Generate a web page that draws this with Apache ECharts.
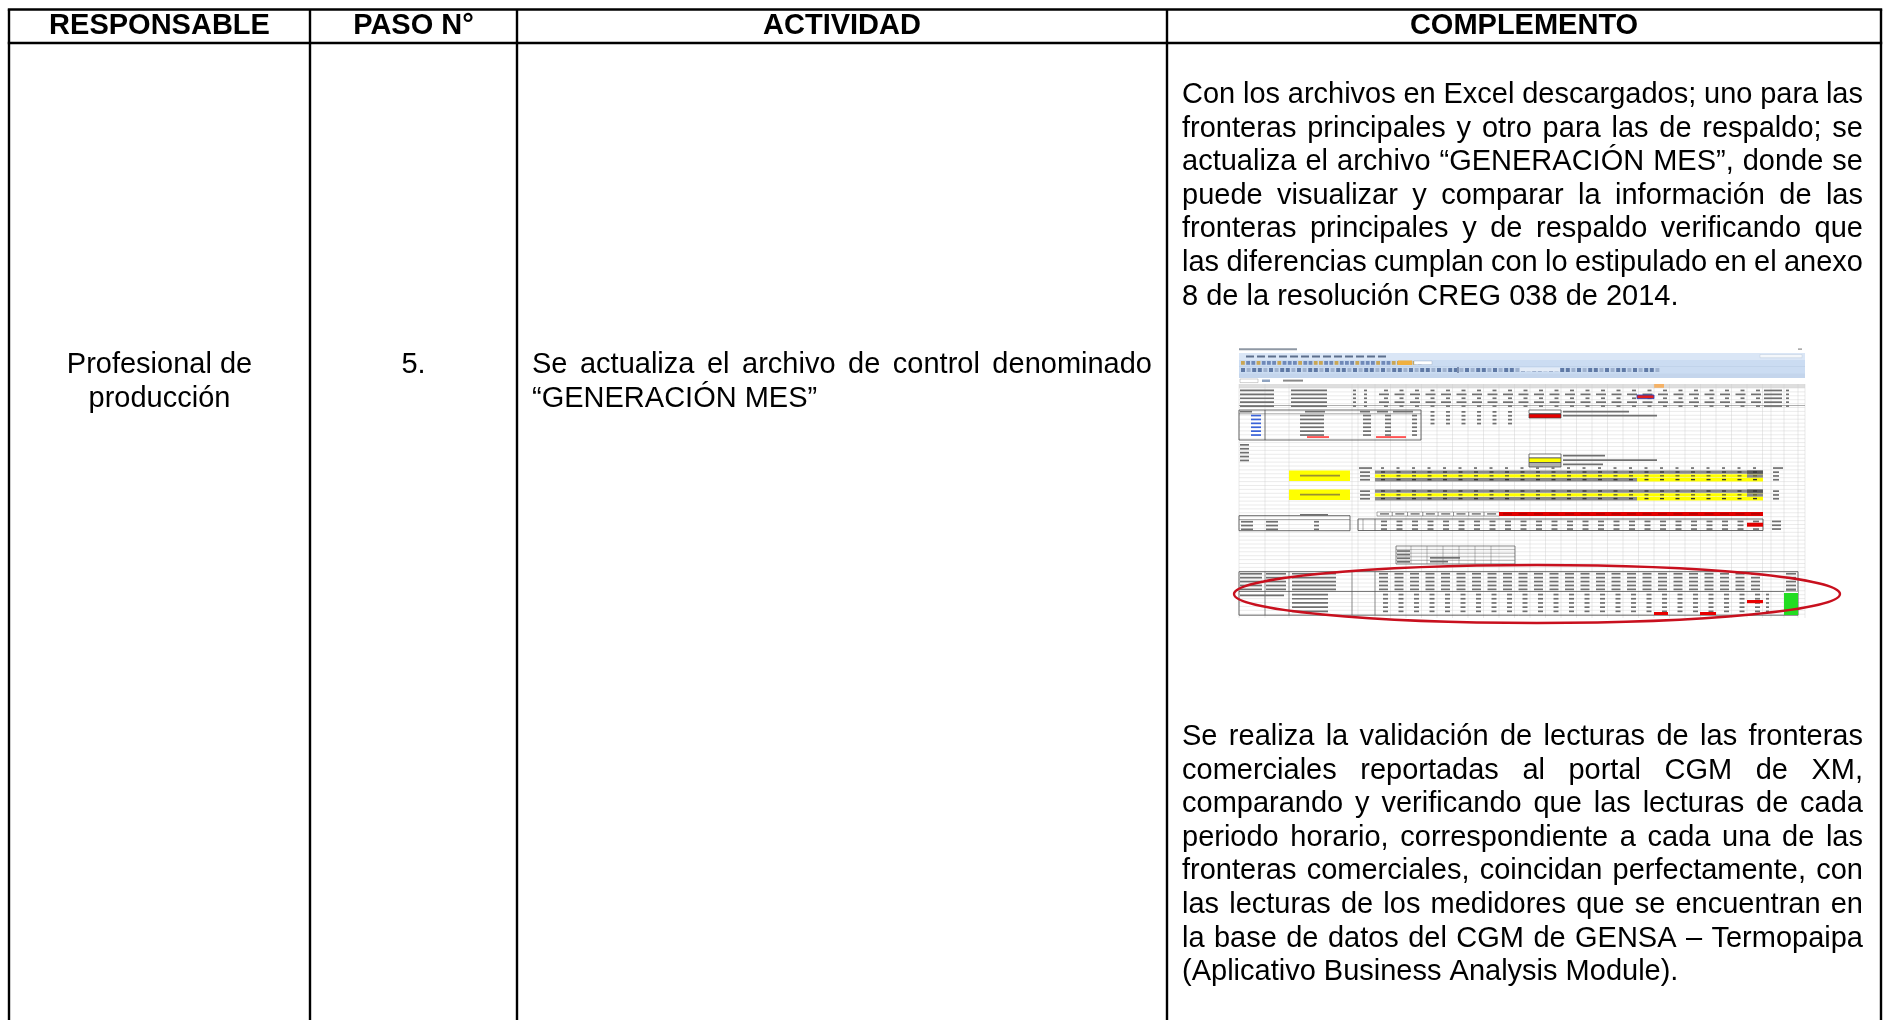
<!DOCTYPE html>
<html><head><meta charset="utf-8">
<script src="https://cdn.jsdelivr.net/npm/echarts@6/dist/echarts.min.js"></script>
<style>html,body{margin:0;padding:0;background:#fff}#c{width:1883px;height:1020px}</style>
</head><body><div id="c"></div>
<script>
// ---- table content ----
const headers = ['RESPONSABLE', 'PASO N°', 'ACTIVIDAD', 'COMPLEMENTO'];
const responsableLines = ['Profesional de', 'producción'];
const pasoLines = ['5.'];
const actividadLines = ['Se actualiza el archivo de control denominado', '“GENERACIÓN MES”'];
const complementoP1 = [
  'Con los archivos en Excel descargados; uno para las',
  'fronteras principales y otro para las de respaldo; se',
  'actualiza el archivo “GENERACIÓN MES”, donde se',
  'puede visualizar y comparar la información de las',
  'fronteras principales y de respaldo verificando que',
  'las diferencias cumplan con lo estipulado en el anexo',
  '8 de la resolución CREG 038 de 2014.'
];
const complementoP2 = [
  'Se realiza la validación de lecturas de las fronteras',
  'comerciales reportadas al portal CGM de XM,',
  'comparando y verificando que las lecturas de cada',
  'periodo horario, correspondiente a cada una de las',
  'fronteras comerciales, coincidan perfectamente, con',
  'las lecturas de los medidores que se encuentran en',
  'la base de datos del CGM de GENSA – Termopaipa',
  '(Aplicativo Business Analysis Module).'
];

// ---- layout ----
const FONT = '"Liberation Sans", Arial, sans-serif';
const FS = 29, LH = 33.6, SCALE_Y = 1.04;
const colX = [9, 310, 517, 1167, 1881];
const topY = 9.5, headBottom = 43, bottomY = 1020;

const ctx = document.createElement('canvas').getContext('2d');
ctx.font = FS + 'px ' + FONT;

const els = [];
function textEl(t, x, y, align, bold) {
  return {type: 'text', silent: true, z: 10,
    scaleY: bold ? 1 : SCALE_Y, originX: x, originY: y + 10,
    style: {
    text: t, x: x, y: y, font: (bold ? 'bold ' : '') + FS + 'px ' + FONT, fill: '#000',
    align: align, textAlign: align, verticalAlign: 'middle', textVerticalAlign: 'middle'}};
}
function justify(line, x0, x1, y) {
  const words = line.split(' ');
  const ws = words.map(w => ctx.measureText(w).width);
  const total = ws.reduce((a, b) => a + b, 0);
  const gap = words.length > 1 ? (x1 - x0 - total) / (words.length - 1) : 0;
  let x = x0;
  words.forEach((w, i) => { els.push(textEl(w, x, y, 'left')); x += ws[i] + gap; });
}
function paragraph(lines, x0, x1, y0) {
  lines.forEach((l, i) => {
    const y = y0 + i * LH;
    if (i < lines.length - 1) justify(l, x0, x1, y);
    else els.push(textEl(l, x0, y, 'left'));
  });
}

// ---- spreadsheet thumbnail (embedded picture) ----
const shot = [];
function R(x, y, w, h, fill, stroke, lw) {
  shot.push({type: 'rect', silent: true, shape: {x: x, y: y, width: w, height: h},
    style: {fill: fill || 'none', stroke: stroke || null, lineWidth: lw || 0.5}});
}
function L(x1, y1, x2, y2, stroke, lw) {
  shot.push({type: 'line', silent: true, shape: {x1: x1, y1: y1, x2: x2, y2: y2},
    style: {stroke: stroke, lineWidth: lw || 0.5}});
}
const MK = '#707070', MH = 1.7;
const SX0 = 1239, SX1 = 1805;
const sheetCols = [1239, 1265, 1289, 1352, 1358, 1375];
for (let k = 1; k <= 25; k++) sheetCols.push(1375 + k * 15.5);
sheetCols.push(1771, 1784, 1798, 1805);
const numCols = sheetCols.filter(c => c >= 1375 && c < 1762);

// title bar
R(1239, 348.3, 58, 2, '#8f98a4');
R(1798, 348.5, 4, 1.2, '#888');
// ribbon
R(SX0, 353, SX1 - SX0, 25, '#cbdcf2');
R(SX0, 353, SX1 - SX0, 7, '#dae6f6');
for (let x = 1246; x < 1385; x += 11) R(x, 355.5, 8, 2, '#5d6f8c');
R(1760, 354.5, 42, 3.2, '#f4f7fb', '#b6c4d8', 0.4);
for (let x = 1241; x < 1420; x += 5.2) R(x, 361, 3.8, 3.8, (Math.floor(x) % 3 < 1.5) ? '#6f89b8' : '#c9a655');
R(1398, 360.5, 14, 4.5, '#f0b040');
R(1414, 361, 18, 3.6, '#fff', '#8fa3c0', 0.4);
R(SX0, 366.5, SX1 - SX0, 0.6, '#b8c9e2');
for (let x = 1241; x < 1660; x += 5.6) R(x, 368, 4, 4, (Math.floor(x) % 4 < 2) ? '#5f79a5' : '#9fb2cf');
R(1457, 367, 2, 6, '#7d8fb0');
R(1520, 367.5, 40, 4, '#e4ecf7');
R(SX0, 373.5, SX1 - SX0, 4.5, '#c4d5ec');
// formula bar
R(SX0, 378, SX1 - SX0, 5.5, '#ffffff');
R(1240, 379, 18, 3.6, '#fff', '#8a8a8a', 0.4);
R(1262, 379.5, 8, 2.5, '#8fa3c0');
R(1283, 379.6, 20, 2, '#888');
// column header row
R(SX0, 384, SX1 - SX0, 4, '#dedede');
R(1654, 384, 10, 4, '#f5b266');
// grid
for (let y = 388; y <= 617; y += 3.9) L(SX0, y, SX1, y, '#d2d2d2', 0.45);
sheetCols.forEach(c => L(c, 384, c, 618, '#cdcdcd', 0.45));

// block 1: data rows
for (let r = 0; r < 5; r++) {
  const y = 389.2 + r * 3.9;
  R(1240, y + 0.4, 34, MH, MK);
  R(1291, y + 0.4, 36, MH, MK);
  R(1353, y + 0.4, 3, MH, MK);
  R(1364, y + 0.4, 3, MH, MK);
  numCols.forEach(c => R(c + (r % 2 === 1 ? 4 : 9), y + 0.4, r % 2 === 1 ? 10 : 4, MH, MK));
  R(1764, y + 0.4, 18, MH, MK);
  R(1786, y + 0.4, 3, MH, MK);
}
R(1637, 395, 17, 3.6, '#e02020', '#2040c0', 0.8);
L(SX0, 405.5, SX1, 405.5, '#777', 0.6);

// block 2: meter table
R(1239, 410, 182, 30, 'none', '#444', 0.8);
L(1265, 410, 1265, 440, '#444', 0.7);
L(1239, 413.8, 1421, 413.8, '#555', 0.5);
R(1240, 410.8, 12, MH, MK);
R(1305, 410.8, 20, MH, MK);
R(1360, 410.8, 10, MH, MK);
R(1377, 410.8, 11, MH, MK);
R(1393, 410.8, 20, MH, MK);
for (let r = 1; r < 7; r++) {
  const y = 410.8 + r * 3.9;
  R(1251, y, 10, MH, '#3a62d8');
  R(1300, y, 24, MH, MK);
  R(1363, y, 8, MH, MK);
  R(1385, y, 6, MH, MK);
  R(1412, y, 5, MH, MK);
}
for (let r = 0; r < 4; r++) {
  const y = 411 + r * 3.9;
  numCols.filter(c => c > 1420 && c < 1510).forEach(c => R(c + 9, y, 4, MH, MK));
}
R(1307, 436.2, 22, MH, '#ff4040');
R(1376, 436.2, 30, MH, '#ff4040');
R(1529, 410, 32, 3.6, '#fff', '#444', 0.7);
R(1529, 414, 32, 4, '#e80000', '#444', 0.7);
R(1563, 410.8, 66, MH, MK);
R(1563, 414.8, 94, MH, MK);
// left label list
for (let r = 0; r < 5; r++) R(1240, 444 + r * 3.9, 9, MH, MK);
// legend 2
R(1529, 454, 32, 4, '#fff', '#444', 0.7);
R(1529, 458, 32, 4.5, '#ffff00', '#444', 0.7);
R(1529, 462.5, 32, 4.5, '#b0b0b0', '#444', 0.7);
R(1563, 454.8, 42, MH, MK);
R(1563, 459.2, 94, MH, MK);
R(1563, 463.6, 40, MH, MK);
// PERIODO row
R(1359, 467.2, 13, MH, MK);
numCols.forEach(c => R(c + 6, 467.2, 3, MH, MK));
R(1773, 467.2, 10, MH, MK);
// yellow boxes + bands
function bandGroup(y0, yb0, yb1) {
  R(1289, yb0, 61, yb1 - yb0, '#ffff00');
  R(1300, (yb0 + yb1) / 2 - 1, 40, MH, '#9a9030');
  const rows = [y0, y0 + 3.8, y0 + 7.6];
  R(1375, rows[0], 388, 3.3, '#8a8a8a');
  R(1375, rows[1], 388, 3.3, '#ffff00');
  R(1375, rows[2], 262, 3.3, '#8a8a8a');
  R(1637, rows[2], 126, 3.3, '#ffff00');
  R(1747, rows[0], 16, 3.3, '#5a5a5a');
  R(1747, rows[1], 16, 3.3, '#8a8a8a');
  rows.forEach((y, i) => {
    R(1360, y + 0.8, 10, MH, MK);
    numCols.forEach(c => R(c + 6, y + 0.8, 4, 1.4, i === 1 ? '#6a6a30' : '#333'));
    R(1773, y + 0.8, 6, MH, MK);
  });
}
bandGroup(470.5, 470.5, 481);
bandGroup(489.5, 489.5, 500);
// red row
for (let k = 0; k < 8; k++) {
  R(1377 + k * 15.3, 512, 15.3, 4, '#fff', '#555', 0.5);
  R(1380 + k * 15.3, 513.2, 9, 1.4, MK);
}
R(1499, 512, 264, 4, '#e00000');
for (let k = 0; k < 17; k++) R(1503 + k * 15.5, 513.2, 9, 1.4, '#b00000');
// table under red row
R(1358, 519, 405, 11.5, 'none', '#444', 0.8);
L(1375, 519, 1375, 530.5, '#555', 0.6);
L(1363, 519, 1363, 530.5, '#555', 0.5);
for (let r = 0; r < 3; r++) {
  const y = 520.2 + r * 3.8;
  numCols.forEach(c => R(c + 6, y + 0.4, 6, MH, MK));
  R(1772, y + 0.4, 9, MH, MK);
}
R(1747, 522.7, 16, 4, '#e00000');
// left small table
R(1239, 515.7, 111, 15, 'none', '#444', 0.8);
L(1239, 519.5, 1350, 519.5, '#555', 0.5);
R(1300, 514, 28, MH, MK);
for (let r = 0; r < 3; r++) {
  const y = 520.5 + r * 3.8;
  R(1241, y + 0.4, 12, MH, MK);
  R(1266, y + 0.4, 12, MH, MK);
  R(1314, y + 0.4, 5, MH, MK);
}
// mid small table
R(1396, 546, 119, 18, 'none', '#555', 0.7);
for (let r = 1; r < 5; r++) L(1396, 546 + r * 3.6, 1515, 546 + r * 3.6, '#666', 0.45);
[1411, 1427, 1443, 1459, 1475, 1491].forEach(c => L(c, 546, c, 564, '#666', 0.45));
for (let r = 0; r < 4; r++) R(1397, 550.2 + r * 3.6, 13, MH, MK);
R(1430, 557, 30, MH, MK);
R(1430, 560.8, 18, MH, MK);
// bottom table
R(1239, 571.7, 559, 43.5, 'none', '#444', 0.8);
L(1239, 591.5, 1798, 591.5, '#444', 0.7);
[1265, 1289, 1352, 1375].forEach(c => L(c, 571.7, c, 615.2, '#555', 0.6));
for (let r = 0; r < 5; r++) {
  const y = 572.5 + r * 3.9;
  R(1240, y + 0.4, 22, MH, MK);
  R(1266, y + 0.4, 20, MH, MK);
  R(1292, y + 0.4, 44, MH, MK);
  numCols.forEach(c => R(c + 4, y + 0.4, 9, MH, MK));
  R(1786, y + 0.4, 10, MH, MK);
}
for (let r = 0; r < 5; r++) {
  const y = 593.3 + r * 4.2;
  R(1292, y + 0.4, 36, MH, MK);
  numCols.forEach(c => R(c + 8, y + 0.4, 5, MH, MK));
  R(1766, y + 0.4, 3, MH, MK);
}
R(1240, 594.5, 44, MH, MK);
R(1784, 593, 14, 22, '#22dd22');
R(1784, 591.5, 14, 1.5, '#fff');
R(1786, 589, 10, MH, MK);
R(1747, 600, 16, 3.2, '#e80000');
R(1654, 612, 14, 3, '#e80000');
R(1700, 612, 16, 3, '#e80000');
// highlight ellipse
shot.push({type: 'ellipse', silent: true, z: 5, shape: {cx: 1537, cy: 594, rx: 303, ry: 29},
  style: {fill: 'none', stroke: '#c8101e', lineWidth: 2.4}});

// ---- table text ----
headers.forEach((h, i) => els.push(textEl(h, (colX[i] + colX[i + 1]) / 2, 25.5, 'center', true)));
responsableLines.forEach((t, i) => els.push(textEl(t, (colX[0] + colX[1]) / 2, 365 + i * LH, 'center')));
pasoLines.forEach((t, i) => els.push(textEl(t, (colX[1] + colX[2]) / 2, 365 + i * LH, 'center')));
paragraph(actividadLines, 532, 1152, 365);
paragraph(complementoP1, 1182, 1863, 95);
paragraph(complementoP2, 1182, 1863, 737);

// ---- table lines ----
const lines = [];
const LW = 2.4;
lines.push({type: 'line', silent: true, z: 20, shape: {x1: colX[0] - 1.2, y1: topY, x2: colX[4] + 1.2, y2: topY}, style: {stroke: '#000', lineWidth: LW}});
lines.push({type: 'line', silent: true, z: 20, shape: {x1: colX[0] - 1.2, y1: headBottom, x2: colX[4] + 1.2, y2: headBottom}, style: {stroke: '#000', lineWidth: LW}});
colX.forEach(x => lines.push({type: 'line', silent: true, z: 20, shape: {x1: x, y1: topY, x2: x, y2: bottomY}, style: {stroke: '#000', lineWidth: LW}}));

const chart = echarts.init(document.getElementById('c'), null, {renderer: 'canvas'});
chart.setOption({
  backgroundColor: '#ffffff',
  animation: false,
  graphic: {elements: shot.concat(els, lines)}
});
</script></body></html>
